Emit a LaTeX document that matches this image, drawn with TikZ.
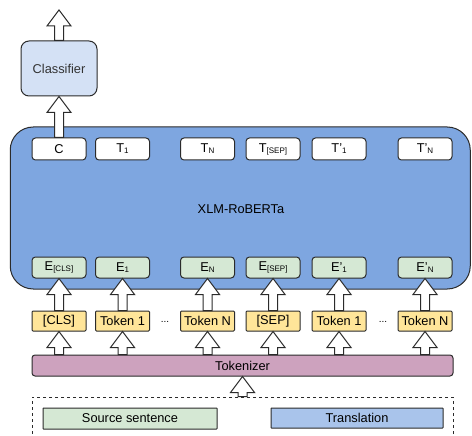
\documentclass[tikz,border=0pt]{standalone}
\usepackage{fontspec}
\setmainfont{Liberation Sans}
\usetikzlibrary{calc}
\definecolor{clsfill}{HTML}{D4E1F5}
\definecolor{xlmfill}{HTML}{7EA6E0}
\definecolor{embfill}{HTML}{D5E8D4}
\definecolor{tokfill}{HTML}{FFE599}
\definecolor{tkzfill}{HTML}{CDA2BE}
\definecolor{trfill}{HTML}{A9C4EB}
\definecolor{edge}{HTML}{2B2B2B}
\newcommand{\sbs}[1]{\raisebox{-1pt}{\fontsize{8}{8}\selectfont #1}}
\tikzset{
  base/.style={draw=edge, line width=1pt, inner sep=0pt, text=black, font=\fontsize{12.8}{15}\selectfont},
  box/.style={base, rounded corners=3.5pt, minimum width=54pt, minimum height=21pt},
  outbox/.style={box, fill=white, minimum height=22pt},
  embbox/.style={box, fill=embfill},
  tokbox/.style={box, fill=tokfill, rounded corners=1pt, minimum height=20pt},
  blockarrow/.style={draw=edge, fill=white, line width=1pt, line join=miter,
    to path={let \p1=(\tikztostart), \p2=(\tikztotarget) in
      (\x1-4.5pt,\y1) -- (\x1-4.5pt,\y2-16pt) -- (\x1-12pt,\y2-16pt) -- (\x1,\y2)
      -- (\x1+12pt,\y2-16pt) -- (\x1+4.5pt,\y2-16pt) -- (\x1+4.5pt,\y1) -- cycle}},
  dots/.style={font=\fontsize{10}{12}\selectfont, inner sep=0pt},
}
\begin{document}
\begin{tikzpicture}[x=1pt,y=-1pt]
\clip (0,0) rectangle (472,436);
\fill[white] (0,0) rectangle (472,436);

% classifier
\node[base, fill=clsfill, rounded corners=8pt, minimum width=76pt, minimum height=55pt, text=black!80] (clf) at (59,68.5) {Classifier};
\coordinate (out) at (59,10);

% big model box
\node[base, fill=xlmfill, rounded corners=23pt, minimum width=460pt, minimum height=162pt] (xlm) at (240.25,208) {};
\node[font=\fontsize{12.8}{15}\selectfont, inner sep=0pt] (xlmlabel) at (241,209) {XLM-RoBERTa};

% output row
\node[outbox] (oc)   at (59,149)    {C};
\node[outbox] (ot1)  at (122.5,149) {T\sbs{1}};
\node[outbox] (otn)  at (207.5,149) {T\sbs{N}};
\node[outbox] (osep) at (273,149)   {T\sbs{[SEP]}};
\node[outbox] (ot1p) at (339,149)   {T'\sbs{1}};
\node[outbox] (otnp) at (425,149)   {T'\sbs{N}};

% embedding row
\node[embbox] (ecls) at (59,267.5)    {E\sbs{[CLS]}};
\node[embbox] (e1)   at (122.5,267.5) {E\sbs{1}};
\node[embbox] (en)   at (207.5,267.5) {E\sbs{N}};
\node[embbox] (esep) at (273,267.5)   {E\sbs{[SEP]}};
\node[embbox] (e1p)  at (339,267.5)   {E'\sbs{1}};
\node[embbox] (enp)  at (425,267.5)   {E'\sbs{N}};

% token row
\node[tokbox] (kcls) at (59,321)    {[CLS]};
\node[tokbox] (k1)   at (122.5,321) {Token 1};
\node[tokbox] (kn)   at (207.5,321) {Token N};
\node[tokbox] (ksep) at (273,321)   {[SEP]};
\node[tokbox] (k1p)  at (339,321)   {Token 1};
\node[tokbox] (knp)  at (425,321)   {Token N};
\node[dots] (d1) at (165,322) {...};
\node[dots] (d2) at (383,322) {...};

% tokenizer
\node[base, fill=tkzfill, rounded corners=3pt, minimum width=421pt, minimum height=21pt] (tkz) at (242.5,365.5) {Tokenizer};

% input
\node[draw=edge, line width=1pt, dash pattern=on 3pt off 3pt, minimum width=421pt, minimum height=60pt, inner sep=0pt] (inp) at (242.5,427) {};
\node[base, fill=embfill, rounded corners=0.5pt, minimum width=174pt, minimum height=21pt] (src) at (130,418.5) {Source sentence};
\node[base, fill=trfill, rounded corners=0.5pt, minimum width=172pt, minimum height=20pt] (trn) at (357,418) {Translation};

% arrows
\draw[blockarrow] (clf.north) to (out);
\draw[blockarrow] (oc.north) to (clf.south);
\foreach \k/\e in {kcls/ecls, k1/e1, kn/en, ksep/esep, k1p/e1p, knp/enp}{
  \draw[blockarrow] (\k.north) to (\e.south);
  \draw[blockarrow] (\k |- tkz.north) to (\k.south);
}
\draw[blockarrow] (tkz.south |- inp.north) to (tkz.south);
\end{tikzpicture}
\end{document}
